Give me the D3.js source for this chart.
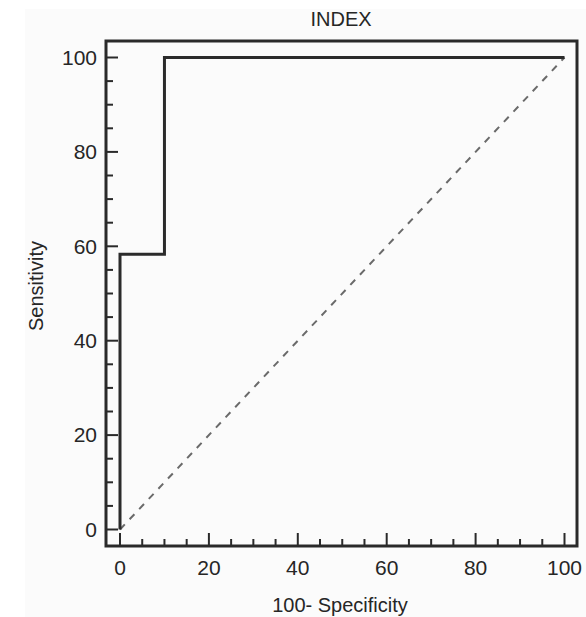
<!DOCTYPE html>
<html>
<head>
<meta charset="utf-8">
<script src="https://cdn.jsdelivr.net/npm/d3@7"></script>
<style>
  body { margin: 0; background: #fff; }
  text { font-family: "Liberation Sans", Arial, sans-serif; fill: #262626; }
</style>
</head>
<body>
<script>
// ROC curve points (100-specificity, sensitivity)
var rocX = [0, 0, 10, 10, 100];
var rocY = [0, 58.3, 58.3, 100, 100];
// reference diagonal
var diagX = [0, 100];
var diagY = [0, 100];
// ticks
var majorTicks = [0, 20, 40, 60, 80, 100];
var minorTicks = d3.range(0, 101, 5);

var chartTitle = "INDEX",
    xTitle = "100- Specificity",
    yTitle = "Sensitivity";

function drawChart(){
    var width = 586,
        height = 617;

    var svg = d3.select("body")
        .append("svg")
        .attr("width", width)
        .attr("height", height);

    //faint paper background
    svg.append("rect")
        .attr("x", 25).attr("y", 9)
        .attr("width", width - 25).attr("height", height - 9)
        .attr("fill", "#fbfbfb");

    //frame edges
    var frame = {left: 106, right: 577, top: 41, bottom: 546};

    var x = d3.scaleLinear().domain([0, 100]).range([120, 564.5]);
    var y = d3.scaleLinear().domain([0, 100]).range([529.5, 57.5]);

    //ticks inside the frame
    var tickColor = "#2a2a2a";
    svg.selectAll(".xminor")
        .data(minorTicks)
        .enter()
        .append("line")
        .attr("x1", function(d){ return x(d); })
        .attr("x2", function(d){ return x(d); })
        .attr("y1", frame.bottom)
        .attr("y2", function(d){ return frame.bottom - (majorTicks.indexOf(d) >= 0 ? 13 : 7); })
        .attr("stroke", tickColor)
        .attr("stroke-width", 2);

    svg.selectAll(".yminor")
        .data(minorTicks)
        .enter()
        .append("line")
        .attr("y1", function(d){ return y(d); })
        .attr("y2", function(d){ return y(d); })
        .attr("x1", frame.left)
        .attr("x2", function(d){ return frame.left + (majorTicks.indexOf(d) >= 0 ? 12 : 7); })
        .attr("stroke", tickColor)
        .attr("stroke-width", 2);

    //tick labels
    svg.selectAll(".xlab")
        .data(majorTicks)
        .enter()
        .append("text")
        .attr("x", function(d){ return x(d); })
        .attr("y", 568)
        .attr("dy", "0.35em")
        .attr("text-anchor", "middle")
        .attr("font-size", 21)
        .text(function(d){ return d; });

    svg.selectAll(".ylab")
        .data(majorTicks)
        .enter()
        .append("text")
        .attr("x", 97)
        .attr("y", function(d){ return y(d); })
        .attr("dy", "0.35em")
        .attr("text-anchor", "end")
        .attr("font-size", 21)
        .text(function(d){ return d; });

    //diagonal reference line
    var line = d3.line()
        .x(function(d){ return x(d[0]); })
        .y(function(d){ return y(d[1]); });

    svg.append("path")
        .datum(d3.zip(diagX, diagY))
        .attr("d", line)
        .attr("fill", "none")
        .attr("stroke", "#6a6a6a")
        .attr("stroke-width", 2)
        .attr("stroke-dasharray", "7,7");

    //roc curve
    svg.append("path")
        .datum(d3.zip(rocX, rocY))
        .attr("d", line)
        .attr("fill", "none")
        .attr("stroke", "#2b2b2b")
        .attr("stroke-width", 3)
        .attr("stroke-linejoin", "miter");

    //frame
    svg.append("rect")
        .attr("x", frame.left)
        .attr("y", frame.top)
        .attr("width", frame.right - frame.left)
        .attr("height", frame.bottom - frame.top)
        .attr("fill", "none")
        .attr("stroke", "#2a2a2a")
        .attr("stroke-width", 3);

    //titles
    svg.append("text")
        .attr("x", 341).attr("y", 19)
        .attr("dy", "0.35em")
        .attr("text-anchor", "middle")
        .attr("font-size", 20)
        .text(chartTitle);

    svg.append("text")
        .attr("x", 340).attr("y", 605)
        .attr("dy", "0.35em")
        .attr("text-anchor", "middle")
        .attr("font-size", 20)
        .text(xTitle);

    svg.append("text")
        .attr("transform", "translate(36,286) rotate(-90)")
        .attr("dy", "0.35em")
        .attr("text-anchor", "middle")
        .attr("font-size", 20)
        .text(yTitle);
}

window.onload = drawChart();
</script>
</body>
</html>
